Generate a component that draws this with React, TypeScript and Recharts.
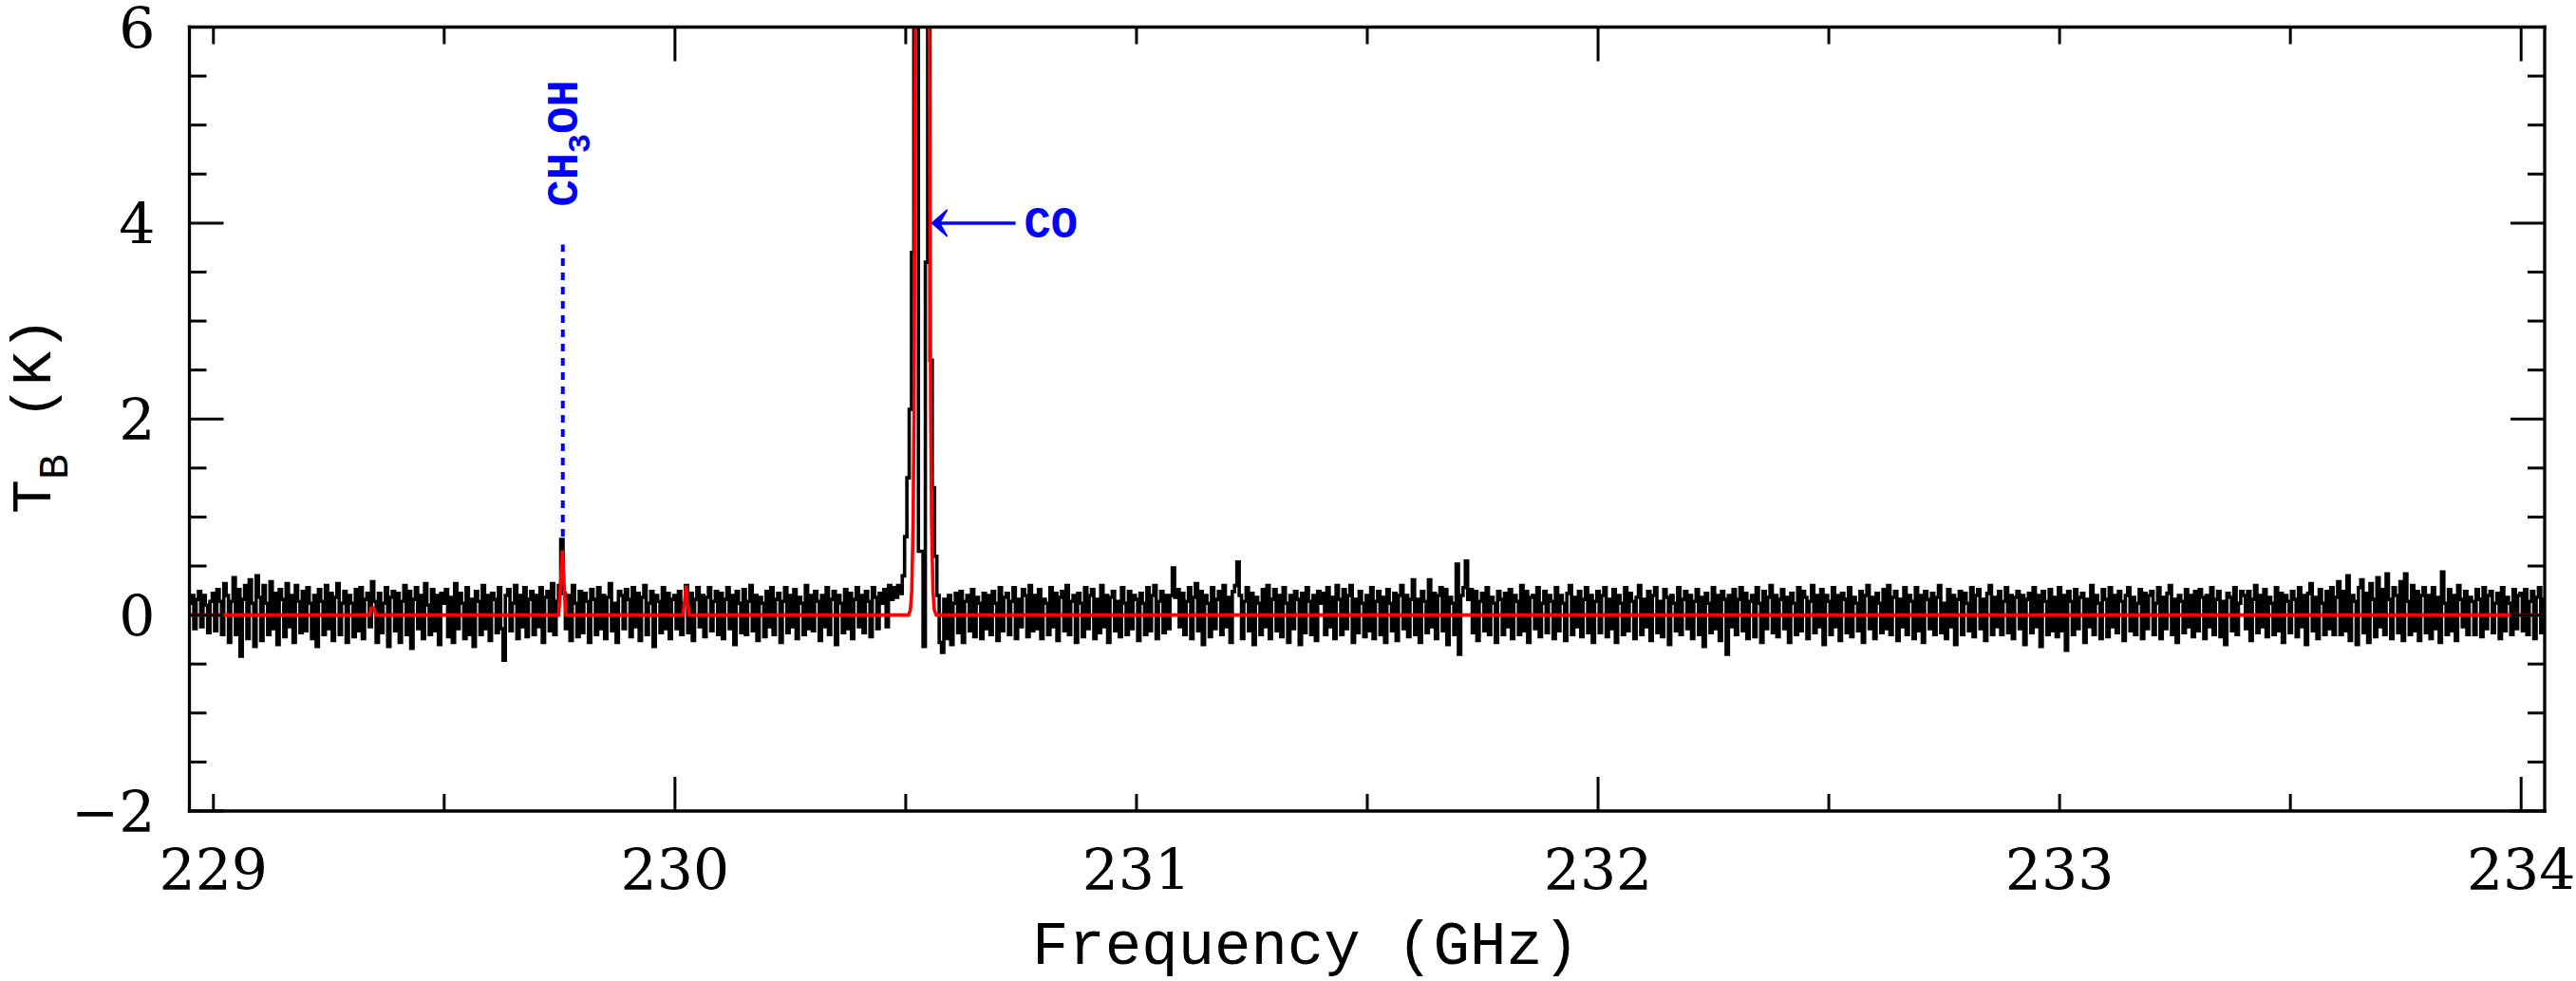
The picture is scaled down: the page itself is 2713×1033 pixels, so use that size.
import React from 'react';
import { LineChart, Line, XAxis, YAxis, ReferenceLine, ReferenceDot } from 'recharts';

// ---- channel grid (GHz) ----
const CH = 0.005;

// ---- observed spectrum T_B (K), one array per frequency segment ----
const tbLead = [.12,.2,-.14,.16,.24,-.12,.2,.1,-.18,.14];
const tb229 = [
  .22,-.16,.26,.14,-.2,.32,.2,-.28,.14,.38,-.2,.26,-.42,.16,.3,-.24,.36,.12,-.32,.4,
  .18,-.26,.3,.12,-.2,.34,-.14,.22,-.3,.26,.16,-.22,.32,-.12,.2,-.28,.3,.14,-.18,.24,
  -.16,.28,.12,-.24,.2,-.32,.26,.14,-.2,.3,-.14,.22,-.26,.18,.32,-.2,.12,.24,-.28,.2,
  .12,-.22,.26,-.16,.28,-.24,.16,.22,-.12,.34,.14,-.28,.22,-.18,.12,.28,-.32,.18,.24,-.16,
  .22,-.28,.14,.3,-.2,.24,-.34,.16,.28,-.14,.2,-.24,.32,.1,-.2,.26,-.16,.2,-.3,.22,
  .12,.26,-.22,.18,-.28,.32,-.14,.22,.12,-.24,.28,-.2,.16,-.32,.24,.14,-.2,.3,-.14,.2,
  -.26,.22,.16,-.18,.28,-.14,-.46,.2,.26,-.16,.12,.3,-.24,.2,-.12,.28,-.22,.16,.24,-.2,
  .2,-.12,.28,-.28,.18,.24,-.16,.32,-.2,.14,.3,.77,.22,-.14,.2,-.26,.3,.12,-.22,.24,
  -.18,.22,.14,-.28,.26,.16,-.2,.28,-.14,.2,-.24,.18,.32,-.16,.12,-.28,.24,.2,-.14,.26,
  .16,-.22,.28,-.12,.22,-.26,.18,.3,-.2,.12,.24,-.32,.2,.14,-.18,.28,-.14,.22,-.24,.16,
];
const tb230a = [
  .2,-.14,.24,-.2,.12,.3,-.18,.22,-.26,.16,.28,-.12,.2,-.22,.18,.28,-.16,.14,.24,-.2,
  .22,-.24,.16,.28,-.14,.2,-.3,.24,.12,-.18,.26,-.2,.14,.3,-.16,.2,-.26,.18,.12,-.22,
  .24,-.12,.28,-.2,.16,.22,-.28,.14,.28,-.18,.2,-.12,.26,-.24,.18,.12,-.2,.3,-.14,.2,
  -.16,.24,.14,-.26,.2,-.12,.28,-.2,.16,.24,-.3,.2,.12,-.18,.26,-.14,.22,-.24,.16,.28,
  -.12,.2,-.18,.24,.14,-.22,.28,.18,-.14,.22,.12,.26,-.12,.3,.16,.28,
];
const tbCO = [.18,.3,.22,.4,.8,1.4,2.1,3.7,9,9,.65,.65,-.32,3.6,9,2.6,1.3,.6,.2,-.28];
const tb230b = [
  -.38,.16,-.24,.2,-.3,.12,.22,-.18,.24,-.28,.14,.2,-.16,.26,-.22,.18,.12,-.24,.22,-.14,
  .2,-.2,.24,.12,-.26,.28,-.16,.18,.22,-.2,.14,.28,-.24,.16,-.12,.26,.2,-.22,.3,-.16,
  .2,-.14,.26,-.24,.16,.12,-.2,.28,-.12,.22,-.26,.18,.24,-.16,.3,-.2,.14,.2,-.28,.22,
  .12,-.22,.28,-.14,.2,.26,-.24,.16,-.18,.3,-.12,.2,-.28,.18,.24,-.16,.14,-.22,.28,.12,
  -.2,.24,-.14,.2,
];
const tb231 = [
  .16,-.26,.22,.12,-.2,.28,-.16,.2,.3,-.24,.14,.24,-.18,.2,-.14,.2,.48,.18,.26,-.12,
  .22,-.2,.14,.28,-.24,.18,.32,-.16,.24,-.3,.2,.12,-.22,.28,-.14,.16,.24,-.2,.3,-.12,
  .18,-.28,.24,.3,.54,.2,-.24,.14,.28,-.16,.22,-.3,.18,.12,-.2,.26,-.12,.3,-.24,.16,
  .26,-.16,.2,-.22,.28,.12,-.28,.2,-.14,.24,.16,-.3,.22,-.18,.28,.14,-.2,.2,-.26,.24,
  .12,.22,-.2,.28,-.12,.18,-.24,.3,.16,-.2,.26,-.14,.2,.3,-.28,.16,-.18,.24,.12,-.22,
  .2,-.16,.28,-.24,.14,.24,-.2,.18,-.28,.26,.12,-.16,.22,-.26,.2,.3,-.14,.2,-.22,.16,
  .36,-.2,.16,-.28,.24,.14,-.18,.36,-.12,.22,-.24,.2,.28,-.16,.26,-.3,.18,.12,-.2,.52,
  -.4,.2,.28,.55,.16,.26,-.18,.24,-.26,.14,.22,-.16,.28,-.2,.18,.12,-.28,.24,.16,-.2,
  .22,-.12,.26,-.24,.2,.14,-.2,.3,-.16,.24,-.28,.18,.2,-.14,.28,-.22,.12,.24,-.18,.2,
  .14,-.24,.28,-.16,.2,.12,-.26,.22,.3,-.2,.18,-.12,.24,-.22,.16,.28,-.18,.2,-.28,.14,
];
const tb232 = [
  .24,-.18,.2,.28,-.22,.16,-.14,.26,-.28,.2,.12,-.2,.28,-.16,.22,.14,-.24,.18,.3,-.2,
  .16,-.12,.24,-.26,.2,.28,-.18,.14,-.22,.26,.18,-.3,.2,.12,-.16,.28,-.2,.16,.24,-.14,
  .2,-.24,.14,.26,-.2,.18,-.32,.22,.12,-.18,.28,-.14,.2,-.26,.24,.16,-.4,.2,-.12,.26,
  -.2,.16,.28,-.16,.22,-.24,.14,.2,-.22,.28,.12,-.28,.24,-.14,.18,.3,-.18,.2,-.22,.16,
  .26,-.14,.18,-.28,.22,.12,-.2,.28,-.16,.24,.18,-.24,.14,.3,-.18,.2,-.12,.26,-.3,.2,
  .14,-.2,.28,-.12,.2,-.26,.22,.16,-.18,.28,-.22,.18,.12,-.16,.24,-.28,.2,.3,-.14,.18,
  -.24,.22,.12,-.18,.26,-.14,.3,-.2,.18,.24,-.26,.16,-.12,.28,-.2,.2,.14,-.24,.28,-.16,
  .2,-.28,.24,.16,-.14,.22,-.2,.18,.3,-.18,.12,-.24,.26,-.12,.2,-.3,.16,.24,-.2,.22,
  .12,-.16,.28,-.22,.2,.26,-.14,.16,-.26,.22,.3,-.2,.18,-.12,.24,-.2,.14,.28,-.18,.2,
  -.24,.18,.24,-.14,.2,-.3,.16,.22,-.18,.28,-.12,.2,-.32,.24,.14,-.2,.26,-.16,.18,-.22,
];
const tb233 = [
  .28,-.16,.2,-.36,.24,.14,-.2,.26,-.14,.18,.22,-.28,.16,-.12,.3,-.2,.2,.12,-.24,.26,
  .16,-.22,.28,-.12,.2,-.18,.24,.14,-.26,.2,.28,-.16,.18,-.2,.12,.26,-.24,.22,-.14,.2,
  .24,-.2,.12,.28,-.24,.18,-.14,.22,.3,-.2,.16,-.28,.2,.14,-.18,.26,-.12,.2,-.22,.24,
  -.16,.26,.18,-.24,.2,-.12,.28,-.2,.16,.24,-.22,.14,-.3,.22,.18,-.16,.28,-.2,.12,.24,
  .2,-.14,.24,-.26,.16,.3,-.18,.2,-.12,.26,-.22,.18,.12,-.2,.28,-.16,.22,-.28,.2,.14,
  -.18,.24,.16,-.22,.28,-.12,.2,-.3,.22,.32,-.16,.18,-.24,.26,.12,-.2,.24,-.14,.28,-.2,
  .18,.34,-.2,.24,-.16,.4,-.26,.2,.14,-.3,.28,.36,-.18,.22,-.28,.32,.16,-.22,.38,-.12,
  .26,-.2,.42,.16,-.24,.28,.2,-.18,.34,-.26,.42,.14,-.2,.3,-.16,.24,-.26,.2,.28,-.18,
  .2,-.24,.28,-.14,.18,-.28,.44,.12,-.2,.26,-.16,.2,-.26,.3,.16,-.12,.24,-.2,.18,.14,
  -.2,.26,.16,-.22,.28,-.14,.2,.24,-.18,.12,.22,-.24,.28,-.16,.18,.12,-.2,.26,-.14,.2,
];
const tb234 = [.22,-.16,.26,-.2,.14,.24,-.24,.18,.28,-.18,.16];

const segmentStarts = [228.95, 229.0, 230.0, 230.48, 230.58, 231.0, 232.0, 233.0, 234.0];
const segmentValues = [tbLead, tb229, tb230a, tbCO, tb230b, tb231, tb232, tb233, tb234];

// ---- fitted model (red) ----
const modelFreq = [228.948, 229.338, 229.342, 229.348, 229.352,
  229.748, 229.752, 229.756, 229.760, 229.764,
  230.017, 230.021, 230.024, 230.027, 230.031,
  230.506, 230.510, 230.513, 230.516, 230.518, 230.521, 230.526, 230.531, 230.536,
  230.541, 230.546, 230.551, 230.554, 230.556, 230.559, 230.562, 230.566,
  234.051];
const modelTb = [0, 0, 0.07, 0.07, 0,
  0, 0.3, 0.66, 0.3, 0,
  0, 0.15, 0.3, 0.15, 0,
  0, 0.05, 0.24, 0.95, 2.1, 5.9, 22, 48, 63,
  48, 22, 5.9, 2.1, 0.95, 0.24, 0.05, 0,
  0];

// ---- axes ----
const X_DOMAIN = [228.948, 234.051];
const Y_DOMAIN = [-2, 6];
const xTicks = [229, 229.5, 230, 230.5, 231, 231.5, 232, 232.5, 233, 233.5, 234];
const xMajor = [230, 232, 234];
const xLabels = [229, 230, 231, 232, 233, 234];
const yTicks = [-2, -1.5, -1, -0.5, 0, 0.5, 1, 1.5, 2, 2.5, 3, 3.5, 4, 4.5, 5, 5.5, 6];
const yMajor = [-2, 0, 2, 4, 6];
const yLabelText = ['\u22122', '0', '2', '4', '6'];

// ---- annotations ----
const ch3ohFreq = 229.757;
const ch3ohLine = [0.8, 3.78];
const coArrow = { f: 230.557, tb: 4 };

const spectrum = segmentStarts.flatMap((s, k) =>
  segmentValues[k].map((v, i) => ({ f: +(s + i * CH).toFixed(3), tb: v }))
);
const model = modelFreq.map((f, i) => ({ f, m: modelTb[i] }));

const TICK_FONT = "'DejaVu Serif', serif";
const MONO = "'Liberation Mono', monospace";
const BLUE = '#0000ff';
const TW = 3;

const BottomTick = (p: any) => {
  const { x, y, payload } = p;
  const v = payload.value;
  const len = xMajor.includes(v) ? 36 : 18;
  return (
    <g>
      <line x1={x} y1={y} x2={x} y2={y - len} stroke="#000" strokeWidth={TW} />
      {xLabels.includes(v) && (
        <text x={x} y={y + 83} textAnchor="middle" fontFamily={TICK_FONT} fontSize={60} fill="#000">
          {String(v)}
        </text>
      )}
    </g>
  );
};
const TopTick = (p: any) => {
  const { x, y, payload } = p;
  const len = xMajor.includes(payload.value) ? 36 : 18;
  return <line x1={x} y1={y} x2={x} y2={y + len} stroke="#000" strokeWidth={TW} />;
};
const LeftTick = (p: any) => {
  const { x, y, payload } = p;
  const v = payload.value;
  const idx = yMajor.indexOf(v);
  const len = idx >= 0 ? 36 : 18;
  return (
    <g>
      <line x1={x} y1={y} x2={x + len} y2={y} stroke="#000" strokeWidth={TW} />
      {idx >= 0 && (
        <text x={x - 36} y={y + 22} textAnchor="end" fontFamily={TICK_FONT} fontSize={60} fill="#000">
          {yLabelText[idx]}
        </text>
      )}
    </g>
  );
};
const RightTick = (p: any) => {
  const { x, y, payload } = p;
  const len = yMajor.includes(payload.value) ? 36 : 18;
  return <line x1={x} y1={y} x2={x - len} y2={y} stroke="#000" strokeWidth={TW} />;
};

const CoMark = (p: any) => {
  const { cx, cy } = p;
  return (
    <g>
      <line x1={cx + 6} y1={cy} x2={cx + 88} y2={cy} stroke={BLUE} strokeWidth={3.5} />
      <path
        d={`M${cx},${cy} L${cx + 16},${cy - 14} L${cx + 8},${cy} L${cx + 16},${cy + 14} Z`}
        fill={BLUE}
        stroke={BLUE}
        strokeWidth={1.5}
      />
      <text x={cx + 97} y={cy + 15} fontFamily={MONO} fontWeight="bold" fontSize={47} fill={BLUE}>
        CO
      </text>
    </g>
  );
};
const MethMark = (p: any) => {
  const { cx, cy } = p;
  return (
    <text
      transform={`translate(${cx + 15},${cy - 40}) rotate(-90)`}
      fontFamily={MONO}
      fontWeight="bold"
      fontSize={47}
      fill={BLUE}
    >
      CH<tspan fontSize={34} dy={13}>3</tspan>
      <tspan dy={-13}>OH</tspan>
    </text>
  );
};

const frame = { stroke: '#000', strokeWidth: 3.3, strokeLinecap: 'square' as const };

export default function App() {
  return (
    <div style={{ position: 'absolute', left: 0, top: 0, width: 2713, height: 1033, background: '#fff' }}>
      <LineChart width={2713} height={1033} margin={{ top: 27.5, right: 32, bottom: 178, left: 198.5 }}>
        <XAxis xAxisId="b" orientation="bottom" type="number" dataKey="f" domain={X_DOMAIN} allowDataOverflow
          ticks={xTicks} interval={0} height={1} tickSize={0} tickMargin={0} tickLine={false}
          axisLine={frame} tick={BottomTick} />
        <XAxis xAxisId="t" orientation="top" type="number" dataKey="f" domain={X_DOMAIN} allowDataOverflow
          ticks={xTicks} interval={0} height={1} tickSize={0} tickMargin={0} tickLine={false}
          axisLine={frame} tick={TopTick} />
        <YAxis yAxisId="l" orientation="left" type="number" domain={Y_DOMAIN} allowDataOverflow
          ticks={yTicks} interval={0} width={1} tickSize={0} tickMargin={0} tickLine={false}
          axisLine={frame} tick={LeftTick} />
        <YAxis yAxisId="r" orientation="right" type="number" domain={Y_DOMAIN} allowDataOverflow
          ticks={yTicks} interval={0} width={1} tickSize={0} tickMargin={0} tickLine={false}
          axisLine={frame} tick={RightTick} />
        <Line xAxisId="t" yAxisId="r" data={model} dataKey="m" stroke="none" dot={false}
          isAnimationActive={false} legendType="none" />
        <Line xAxisId="b" yAxisId="l" data={spectrum} dataKey="tb" type="step" stroke="#000"
          strokeWidth={3.6} dot={false} isAnimationActive={false} />
        <Line xAxisId="b" yAxisId="l" data={model} dataKey="m" type="linear" stroke="#ff0000"
          strokeWidth={3.6} dot={false} isAnimationActive={false} />
        <ReferenceLine xAxisId="b" yAxisId="l"
          segment={[{ x: ch3ohFreq, y: ch3ohLine[0] }, { x: ch3ohFreq, y: ch3ohLine[1] }]}
          stroke={BLUE} strokeWidth={4} strokeDasharray="8 7" />
        <ReferenceDot xAxisId="b" yAxisId="l" x={ch3ohFreq} y={ch3ohLine[1]} r={0} shape={MethMark} />
        <ReferenceDot xAxisId="b" yAxisId="l" x={coArrow.f} y={coArrow.tb} r={0} shape={CoMark} />
      </LineChart>
      <svg width={2713} height={1033} style={{ position: 'absolute', left: 0, top: 0, pointerEvents: 'none' }}>
        <text x={1087} y={1015} fontFamily={MONO} fontSize={64} fill="#000">Frequency (GHz)</text>
        <text transform="translate(53,541) rotate(-90)" fontFamily={MONO} fontSize={60} fill="#000"
          style={{ whiteSpace: 'pre' }}>
          T<tspan fontSize={45} dy={18}>B</tspan>
          <tspan dy={-18}> (K)</tspan>
        </text>
      </svg>
    </div>
  );
}
